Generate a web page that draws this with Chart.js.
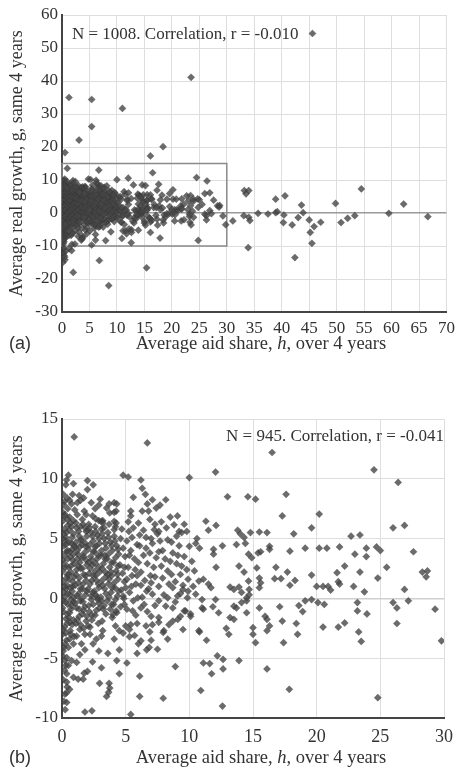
<!DOCTYPE html>
<html>
<head>
<meta charset="utf-8">
<script src="https://cdn.jsdelivr.net/npm/chart.js@4.4.1/dist/chart.umd.min.js"></script>
<style>
body{margin:0;background:#fff;}
#wrap{position:relative;width:461px;height:769px;overflow:hidden;font-family:"Liberation Serif","Times New Roman",serif;color:#333;}
canvas{position:absolute;left:0;}
.lbl{position:absolute;white-space:nowrap;line-height:1;}
.mid{transform:translate(-50%,-50%);}
.sans{font-family:"Liberation Sans",Arial,sans-serif;}
</style>
</head>
<body>
<div id="wrap">
  <canvas id="chartA" width="461" height="352" style="top:0"></canvas>
  <canvas id="chartB" width="461" height="391" style="top:378px"></canvas>
  <div class="lbl" style="left:72px;top:25px;font-size:17px">N = 1008. Correlation, r = -0.010</div>
  <div class="lbl sans" style="left:9px;top:334px;font-size:18px">(a)</div>
  <div class="lbl mid" style="left:261px;top:343px;font-size:18.5px">Average aid share, <i>h</i>, over 4 years</div>
  <div class="lbl" style="right:17px;top:427px;font-size:17px">N = 945. Correlation, r = -0.041</div>
  <div class="lbl sans" style="left:9px;top:748px;font-size:18px">(b)</div>
  <div class="lbl mid" style="left:261px;top:757px;font-size:18.5px">Average aid share, <i>h</i>, over 4 years</div>
</div>
<script>
// axis ranges
const xRangeA = [0, 70], yRangeA = [-30, 60], xStepA = 5, yStepA = 10;
const xRangeB = [0, 30], yRangeB = [-10, 15], xStepB = 5, yStepB = 5;
const yTitle = "Average real growth, g, same 4 years";

// dense cloud at low aid share
const coreB = [
  [0.1,6.5],[0.2,5.8],[0.3,5.1],[0.15,4.4],[0.35,3.9],[0.05,3.2],[0.25,2.6],[0.4,2.0],[0.1,1.4],[0.3,0.8],[0.2,0.1],[0.45,-0.5],
  [0.1,-1.1],[0.3,-1.7],[0.2,-2.4],[0.05,-3.0],[0.35,-3.5],[0.15,-4.1],[0.3,4.8],[0.45,6.1],[0.05,7.2],[0.25,7.0],[0.4,1.1],[0.1,-0.2],
  [0.3,-2.9],[0.2,-6.0],[0.1,-6.8],[0.4,-7.4],[0.3,-5.6],[0.05,-4.8],[0.45,3.3],[0.2,2.9],[0.4,-1.3],[0.15,0.5],[0.35,5.5],[0.05,5.0],
  [0.6,6.8],[0.75,6.0],[0.9,5.4],[0.55,4.7],[0.8,4.1],[0.65,3.5],[0.95,2.9],[0.7,2.2],[0.55,1.6],[0.85,1.0],[0.6,0.3],[0.9,-0.3],
  [0.7,-0.9],[0.55,-1.6],[0.8,-2.2],[0.65,-2.7],[0.95,-3.2],[0.6,5.7],[0.85,3.2],[0.7,-0.1],[0.95,1.8],[0.5,2.6],[0.75,4.6],[0.9,6.5],
  [0.6,-2.0],[0.8,0.6],
  [1.1,6.3],[1.3,5.6],[1.45,4.9],[1.05,4.3],[1.25,3.7],[1.4,3.0],[1.15,2.4],[1.35,1.7],[1.05,1.1],[1.3,0.4],[1.45,-0.2],[1.15,-0.8],
  [1.35,-1.5],[1.1,-2.1],[1.4,-2.6],[1.2,7.0],[1.45,6.0],[1.2,4.0],[1.05,-0.4],[1.3,2.7],
  [1.6,6.6],[1.8,5.9],[1.95,5.2],[1.55,4.5],[1.75,3.8],[1.9,3.2],[1.6,2.5],[1.85,1.9],[1.65,1.2],[1.95,0.6],[1.55,0.0],[1.8,-0.7],
  [1.6,-1.3],[1.9,-1.9],[1.7,-2.5],[1.75,7.3],[1.55,3.4],[1.9,4.3],[1.65,-0.3],
  [2.1,6.2],[2.3,5.5],[2.45,4.8],[2.05,4.1],[2.25,3.5],[2.4,2.8],[2.15,2.1],[2.35,1.5],[2.05,0.8],[2.3,0.2],[2.45,-0.5],[2.15,-1.1],
  [2.35,-1.8],[2.2,-2.4],[2.4,6.9],[2.1,3.0],[2.3,-0.1],[2.0,5.7],
  [2.6,6.0],[2.8,5.3],[2.95,4.6],[2.55,3.9],[2.75,3.3],[2.9,2.6],[2.65,1.9],[2.85,1.2],[2.55,0.6],[2.8,-0.1],[2.95,-0.8],[2.6,-1.4],
  [2.85,-2.1],[2.7,4.4],[2.9,6.5],[2.6,2.3],[2.75,0.1],
  [3.1,5.8],[3.3,5.0],[3.45,4.2],[3.05,3.6],[3.25,2.9],[3.4,2.2],[3.15,1.5],[3.35,0.8],[3.05,0.1],[3.3,-0.6],[3.45,-1.3],[3.15,-1.9],
  [3.2,6.5],[3.4,3.3],[3.1,-0.2],
  [3.6,5.5],[3.8,4.7],[3.95,4.0],[3.55,3.3],[3.75,2.6],[3.9,1.9],[3.65,1.2],[3.85,0.5],[3.55,-0.2],[3.8,-0.9],[3.95,-1.6],[3.7,6.2],
  [3.6,2.0],[3.9,3.0],
  [4.1,5.2],[4.3,4.4],[4.45,3.7],[4.05,3.0],[4.25,2.3],[4.4,1.6],[4.15,0.9],[4.35,0.2],[4.05,-0.5],[4.3,-1.2],[4.2,6.0],[4.4,2.7],
  [4.6,5.0],[4.8,4.2],[4.95,3.5],[4.55,2.8],[4.75,2.1],[4.9,1.4],[4.65,0.7],[4.85,0.0],[4.6,-0.7],[4.7,5.8],[4.9,2.6],
  [5.1,4.8],[5.4,4.0],[5.7,3.3],[5.2,2.6],[5.5,1.9],[5.8,1.2],[5.3,0.5],[5.6,-0.2],[5.9,4.5],[5.25,5.6],[5.75,2.4],[5.45,1.0],
  [6.1,4.4],[6.4,3.6],[6.7,2.9],[6.2,2.2],[6.5,1.5],[6.8,0.8],[6.3,0.1],[6.6,5.1],[6.9,3.8],[6.45,-0.5],[6.95,1.9],
  [7.1,4.6],[7.4,3.4],[7.8,2.7],[7.3,1.8],[7.6,1.0],[8.0,0.3],[7.9,4.0],[8.3,2.3],[8.1,3.3],[7.5,5.4],[8.4,1.2],
  [8.7,3.8],[9.0,2.9],[9.3,2.0],[8.9,1.4],[9.6,3.5],[9.8,2.4],[9.5,1.1],[8.6,4.7],[9.2,4.4],[9.9,0.6]
];

const coreB2 = [
  [0.2,6.9],[0.45,6.6],[0.1,5.4],[0.3,4.5],[0.45,4.0],[0.2,3.6],[0.05,2.3],[0.35,1.7],[0.2,1.0],[0.45,0.4],[0.3,-0.3],[0.05,-0.8],
  [0.4,-2.1],[0.25,-3.8],[0.1,-2.6],
  [0.65,6.3],[0.8,5.1],[0.95,4.4],[0.6,3.9],[0.9,3.7],[0.7,2.7],[0.55,2.0],[0.85,1.4],[0.65,0.9],[0.95,0.1],[0.75,-0.6],[0.6,-1.2],
  [0.9,-1.8],[0.7,-3.0],
  [1.15,5.9],[1.35,5.2],[1.1,4.7],[1.4,4.3],[1.2,3.3],[1.45,2.5],[1.1,2.0],[1.3,1.3],[1.45,0.8],[1.2,0.2],[1.35,-0.9],[1.2,-1.8],[1.45,-2.2],
  [1.65,6.2],[1.9,5.6],[1.6,4.9],[1.85,4.6],[1.7,3.5],[1.95,2.8],[1.7,2.0],[1.9,1.5],[1.6,0.8],[1.85,0.3],[1.7,-1.0],[1.95,-1.5],
  [2.15,5.9],[2.4,5.2],[2.2,4.5],[2.45,3.9],[2.35,3.2],[2.2,2.5],[2.45,1.9],[2.2,1.2],[2.4,0.5],[2.1,-0.6],[2.35,-1.4],
  [2.65,5.6],[2.9,5.0],[2.6,4.3],[2.85,3.6],[2.65,2.9],[2.95,2.2],[2.7,1.5],[2.9,0.9],[2.65,0.3],[2.9,-0.4],[2.7,-1.0],
  [3.15,5.4],[3.4,4.6],[3.1,4.0],[3.35,3.6],[3.15,2.5],[3.45,1.8],[3.2,1.1],[3.45,0.4],[3.25,-0.9],
  [3.65,5.1],[3.9,4.4],[3.65,3.7],[3.85,2.2],[3.7,1.6],[3.95,0.9],[3.7,0.1],[3.9,-0.5],
  [4.15,4.8],[4.4,4.1],[4.2,3.4],[4.35,2.0],[4.1,1.3],[4.45,0.6],[4.2,-0.1]
];

// further points in the middle band of panel (b)
const coreB3 = [
  [5.2,6.4],[5.6,5.9],[6.0,6.3],[6.4,5.7],[6.9,6.6],[7.3,6.2],[7.8,6.4],[8.2,5.9],[8.5,6.8],[9.6,6.2],[5.5,5.1],[6.1,5.3],
  [7.0,5.0],[7.7,4.8],[8.3,4.9],[9.0,5.2],[9.8,5.6],[5.3,3.6],[6.0,3.0],[6.6,4.2],[7.2,2.6],[7.6,3.9],[8.5,3.1],[9.1,3.6],
  [9.4,2.7],[10.2,3.1],[10.4,2.3],[5.1,1.6],[5.9,1.9],[6.2,1.1],[7.0,1.3],[7.9,1.7],[8.6,2.0],[9.9,1.6],[10.3,1.0],
  [5.1,-0.9],[5.8,-1.4],[6.7,-1.1],[7.3,-0.6],[8.9,-0.3],[9.3,0.4],[6.9,-2.8],[8.3,-3.4],[9.5,-2.6],[5.9,-4.6],[4.3,-5.2],
  [3.1,-5.8],[2.4,-5.3],[2.9,-4.4],[1.4,-4.7],[2.0,-6.1],[0.2,8.1],[0.6,8.2],[0.45,7.5],[1.2,8.0],[1.7,8.4],[2.3,8.0],
  [2.9,7.8],[0.35,-7.9],[0.15,-8.6],[0.6,-7.6],[0.25,-9.3]
];

// scattered points
const scatterB = [
  [0.96,13.5],[6.7,13.0],[10.0,10.1],[0.5,10.3],[0.36,9.9],[0.3,9.5],[0.9,9.6],[4.8,10.3],[5.2,10.15],[6.2,9.9],[2.0,9.85],[2.45,9.5],
  [2.0,9.1],[6.3,9.2],[6.55,8.7],[5.6,8.45],[0.1,8.7],[0.83,8.7],[1.35,8.6],[1.45,8.2],[0.4,8.4],[0.15,7.8],[0.75,7.9],[1.0,7.4],
  [3.0,8.3],[3.7,7.9],[4.1,8.0],[4.3,7.9],[3.5,7.55],[3.75,7.15],[4.1,7.2],[4.25,7.3],[6.7,7.9],[7.1,8.25],[7.7,7.8],[8.15,8.25],
  [7.4,7.55],[6.8,7.3],[6.3,7.3],[5.4,7.3],[5.4,6.9],[4.1,6.45],[1.9,7.0],[2.6,7.5],[2.65,6.65],[3.1,6.45],[3.3,5.9],[3.2,6.3],
  [4.25,6.3],[4.1,5.75],[9.07,6.9],[8.8,6.15],[9.2,5.6],[9.4,5.5],[7.25,5.75],[7.6,5.6],[10.5,4.6],[10.0,4.35],
  [16.5,12.2],[12.06,10.56],[24.5,10.75],[26.4,9.7],[13.0,8.5],[14.6,8.5],[15.2,8.3],[17.6,8.7],[17.3,6.9],[20.2,7.05],[11.3,6.45],
  [11.5,5.7],[12.1,6.1],[13.8,5.7],[14.0,5.4],[14.3,5.1],[14.8,5.5],[15.5,5.55],[16.1,5.5],[18.2,5.4],[19.6,5.9],[22.7,5.2],[23.4,5.3],
  [26.0,5.9],[26.9,6.1],[10.6,5.0],[10.8,4.2],[11.9,4.1],[11.9,3.7],[12.6,4.4],[13.7,4.5],[14.4,4.6],[14.65,3.7],[14.9,3.4],[15.4,3.8],
  [15.6,3.9],[16.3,4.35],[16.3,4.1],[17.9,3.95],[19.1,4.2],[20.2,4.2],[20.8,4.2],[21.8,4.3],[23.0,3.7],[23.9,4.2],[23.9,3.5],[24.7,4.3],
  [25.0,4.0],[27.6,3.9],
  [12.1,2.6],[13.9,2.7],[14.3,2.2],[15.3,2.55],[16.8,2.6],[17.7,2.2],[22.2,2.7],[23.4,2.2],[25.5,2.6],[28.3,2.2],[28.7,2.3],[28.6,1.8],
  [11.1,1.6],[11.5,1.2],[10.75,1.45],[11.7,0.9],[10.5,0.35],[11.0,-0.1],[11.0,-0.8],[12.06,-0.1],[11.85,-0.7],[12.3,-1.2],[13.2,0.95],
  [13.5,0.75],[13.9,0.95],[14.1,0.5],[14.5,0.05],[14.7,0.3],[14.1,-0.35],[14.5,-0.2],[13.7,-0.8],[13.5,-0.65],[14.65,1.45],[14.7,0.75],
  [15.5,1.7],[15.6,1.3],[15.5,0.9],[16.7,1.65],[17.2,1.65],[17.9,1.1],[18.3,1.5],[19.6,1.95],[20.0,1.0],[20.5,1.0],[20.9,1.0],[21.1,0.7],
  [21.6,2.15],[21.7,1.4],[21.8,1.2],[22.9,1.0],[23.75,0.55],[24.8,1.7],[26.9,0.75],[27.2,-0.2],[26.0,-0.35],[26.3,-0.8],[26.3,-2.1],
  [29.3,-0.9],[29.8,-3.55],[11.1,-0.9],[10.8,-2.8],[11.35,-3.5],[13.2,-1.6],[13.5,-1.75],[12.9,-2.5],[13.1,-3.0],[14.5,-1.2],[15.5,-0.8],
  [15.95,-1.5],[16.1,-1.75],[16.3,-2.3],[16.1,-2.7],[15.0,-2.45],[15.0,-3.0],[15.2,-3.7],[17.1,-0.7],[17.3,-1.9],[17.4,-3.7],[18.4,-2.1],
  [18.5,-3.0],[18.6,-0.6],[18.9,-1.1],[19.1,-0.2],[19.6,-0.1],[20.1,-0.35],[20.6,-0.5],[20.5,-2.4],[21.7,-2.4],[22.2,-2.05],[23.2,-0.35],
  [23.2,-1.05],[23.95,-1.3],[23.3,-2.8],[23.5,-3.6],[11.1,-5.4],[11.6,-5.45],[12.2,-4.8],[12.65,-5.1],[12.65,-5.9],[11.75,-6.3],
  [13.9,-5.2],[16.1,-5.9],[10.9,-7.7],[17.85,-7.6],[12.6,-9.0],[24.8,-8.3],
  [1.8,-9.5],[2.35,-9.4],[5.4,-9.7],[0.37,-8.7],[0.23,-8.0],[3.5,-8.2],[6.1,-8.2],[7.95,-8.35],[2.95,-7.1],[3.7,-7.1],[3.75,-7.5],
  [3.66,-7.85],[4.5,-6.3],[6.1,-6.5],[8.9,-5.7],[5.1,-5.4],[0.37,-7.0],[0.9,-6.6],[1.27,-6.75],[1.66,-6.75],[1.74,-6.25],[0.37,-6.3],
  [0.5,-5.6],[0.23,-5.2],[0.37,-4.95],[0.75,-5.2],[1.15,-5.35],[0.1,-4.4],[0.5,-4.1],[0.9,-3.8],[1.53,-3.8],[1.8,-4.3],[2.44,-3.8],
  [3.6,-4.6],[4.5,-4.3],[5.3,-3.2],[4.8,-2.9],[6.0,-3.8],[6.2,-3.55],[6.65,-4.3],[6.85,-4.1],[7.0,-3.5],[7.5,-4.25],[4.1,-3.4],
  [3.1,-3.15],[2.7,-3.4],[2.2,-3.0],[2.05,-2.3],[1.8,-3.0],[1.15,-3.15],[0.6,-3.4],[3.2,-2.7],[4.5,-2.7],[5.3,-2.6],[5.7,-3.1],
  [4.2,-2.3],[5.0,-2.3],[5.4,-2.2],[5.9,-2.1],[6.6,-2.3],[7.1,-2.2],[7.6,-2.0],[8.0,-2.7],[7.95,-2.85],[8.4,-2.2],[9.1,-1.75],
  [8.7,-1.9],[9.7,-1.05],[10.1,-1.3],[10.75,-2.7],[7.6,-1.6],[7.0,-1.5],[8.7,0.9],[9.5,0.75],[9.85,0.05],[9.07,0.2],[8.3,0.05],
  [8.15,-0.65],[8.7,-0.8],[9.6,-1.05],[9.3,-1.5],[10.1,-1.5],[7.6,-0.2],[7.1,0.35],[6.65,0.6],[5.95,0.05],[6.2,-0.8],[5.55,-1.05],
  [4.9,-0.5],[4.25,-1.05],[4.0,-1.35],[4.8,0.2],[5.0,0.9]
];

// points of panel (a) that fall outside the box of panel (b)
const outsideA = [
  [23.5,41.1],[1.27,35.0],[5.4,34.4],[11.0,31.7],[5.4,26.2],[3.1,22.1],[0.54,18.3],[18.4,20.1],[16.1,17.3],[45.6,54.4],
  [0.54,-14.2],[0.36,-12.9],[2.05,-18.0],[6.8,-14.4],[8.5,-22.0],[15.4,-16.6],[0.2,-11.0],[0.3,-12.0],[0.5,-13.3],[0.15,-15.0],
  [0.7,-11.5],[1.3,-10.8],[0.25,-10.5],[1.75,-11.4],
  [33.2,6.8],[34.0,6.8],[33.5,5.8],[38.9,4.2],[40.6,5.2],[43.6,2.4],[49.8,2.9],[54.5,7.3],[62.2,2.7],[31.1,-2.4],[33.1,-0.8],
  [34.0,-1.3],[34.2,-2.3],[35.7,-0.1],[37.5,-0.3],[38.9,0.1],[39.2,0.4],[40.4,-0.6],[40.3,-2.9],[41.9,-3.6],[43.0,-1.4],[43.9,0.1],
  [45.0,-2.1],[45.9,-4.1],[45.2,-5.9],[47.1,-2.8],[45.5,-9.2],[50.8,-2.9],[52.0,-1.6],[53.3,-0.8],[59.5,-0.1],[66.6,-1.1],
  [33.9,-10.5],[42.4,-13.5]
];

const toXY = arr => arr.map(p => ({x: p[0], y: p[1]}));
const dataB = toXY(coreB.concat(coreB2, coreB3, scatterB));
const dataA = toXY(coreB.concat(coreB2, coreB3, scatterB, outsideA));

const serif = "'Liberation Serif','Times New Roman',serif";
const textColor = "#333";

const boxPlugin = {
  id: "zoomBox",
  beforeDatasetsDraw(chart, args, opts) {
    if (!opts.show) return;
    const {ctx, scales: {x, y}} = chart;
    const x0 = x.getPixelForValue(xRangeB[0]), x1 = x.getPixelForValue(xRangeB[1]);
    const y0 = y.getPixelForValue(yRangeB[0]), y1 = y.getPixelForValue(yRangeB[1]);
    ctx.save();
    ctx.strokeStyle = "#8a8a8a";
    ctx.lineWidth = 1.5;
    ctx.strokeRect(x0, y1, x1 - x0, y0 - y1);
    ctx.restore();
  }
};

function makeChart(id, data, cfg) {
  return new Chart(document.getElementById(id), {
    type: "scatter",
    data: {
      datasets: [{
        data: data,
        pointStyle: "rectRot",
        pointRadius: 3.6,
        backgroundColor: "rgba(70,70,70,0.8)",
        borderColor: "rgba(40,40,40,0.5)",
        borderWidth: 0.5
      }]
    },
    options: {
      responsive: false,
      animation: false,
      events: [],
      devicePixelRatio: 1,
      layout: {padding: {top: cfg.padTop, right: cfg.padRight, left: 0, bottom: 0}},
      plugins: {legend: {display: false}, tooltip: {enabled: false}, zoomBox: {show: cfg.box}},
      scales: {
        x: {
          type: "linear", min: cfg.xr[0], max: cfg.xr[1],
          ticks: {stepSize: cfg.xs, color: textColor, font: {family: serif, size: cfg.xFont}, padding: cfg.xPad, maxRotation: 0, autoSkip: false},
          grid: {color: "#dedede", lineWidth: 1, drawTicks: false},
          border: {color: "#444", width: 2},
          afterFit: s => { s.height = cfg.xHeight; }
        },
        y: {
          type: "linear", min: cfg.yr[0], max: cfg.yr[1],
          ticks: {stepSize: cfg.ys, color: textColor, font: {family: serif, size: 17}, padding: 4},
          grid: {
            color: c => (c.tick && c.tick.value === 0) ? cfg.zeroColor : "#dedede",
            lineWidth: c => (c.tick && c.tick.value === 0) ? 1.5 : 1,
            drawTicks: false
          },
          border: {color: "#444", width: 2},
          title: {display: true, text: yTitle, color: textColor, font: {family: serif, size: 18}, padding: {top: 6, bottom: 0}},
          afterFit: s => { s.width = 62; }
        }
      }
    },
    plugins: [boxPlugin]
  });
}

makeChart("chartA", dataA, {xr: xRangeA, yr: yRangeA, xs: xStepA, ys: yStepA, padTop: 15, padRight: 13,
  xHeight: 40, xPad: 6, xFont: 17, zeroColor: "#9a9a9a", box: true});
makeChart("chartB", dataB, {xr: xRangeB, yr: yRangeB, xs: xStepB, ys: yStepB, padTop: 41, padRight: 14,
  xHeight: 51, xPad: 8, xFont: 18, zeroColor: "#cfcfcf", box: false});
</script>
</body>
</html>
